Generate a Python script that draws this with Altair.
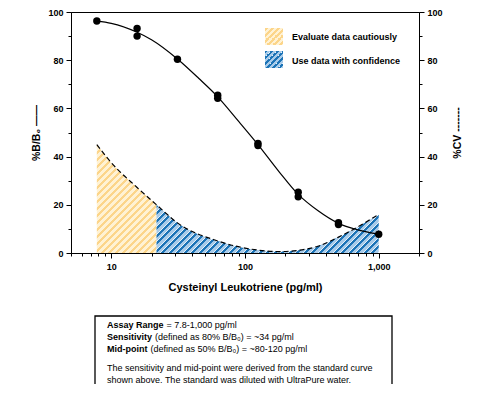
import math
import altair as alt
import pandas as pd

# ---------------- data ----------------
std_conc = [7.8, 15.6, 15.6, 31.25, 62.5, 62.5, 125, 125, 250, 250, 500, 500, 1000]
std_bb0 = [96.3, 93.2, 90.0, 80.4, 65.5, 64.2, 45.5, 44.6, 25.2, 23.3, 12.6, 11.8, 7.8]

curve_conc = [7.8, 10, 15.6, 20, 31.25, 45, 62.5, 90, 125, 180, 250, 350, 500, 700, 1000]
curve_bb0 = [96.2, 95.3, 91.6, 88.5, 80.5, 72.5, 64.8, 54.5, 45.0, 33.7, 24.3, 17.6, 12.3, 9.6, 7.8]

caution_conc = [7.8, 10, 15.6, 21.8]
caution_cv = [45, 37.5, 27.2, 20]
confidence_conc = [21.8, 31.25, 62.5, 125, 180, 250, 350, 500, 1000]
confidence_cv = [20, 12.5, 5.0, 1.2, 0.6, 1.1, 2.8, 6.6, 16]

x_tick_values = [5, 6, 7, 8, 9, 10, 20, 30, 40, 50, 60, 70, 80, 90, 100,
                 200, 300, 400, 500, 600, 700, 800, 900, 1000, 2000]
x_labelled = [10, 100, 1000]
y_tick_values = [0, 10, 20, 30, 40, 50, 60, 70, 80, 90, 100]

legend_labels = ["Evaluate data cautiously", "Use data with confidence"]
box_bold = ["Assay Range", "Sensitivity", "Mid-point"]
box_normal = ["= 7.8-1,000 pg/ml",
              "(defined as 80% B/B\u2080) =  ~34 pg/ml",
              "(defined as 50% B/B\u2080) =  ~80-120 pg/ml"]
box_note = ["The sensitivity and mid-point were derived from the standard curve",
            "shown above. The standard was diluted with UltraPure water."]

# ---------------- layout ----------------
FONT = "Liberation Sans, Arial, Helvetica, sans-serif"
PLOT_W, PLOT_H = 348, 241
X_DOMAIN = [5, 2000]


def px(v):
    lo, hi = math.log10(X_DOMAIN[0]), math.log10(X_DOMAIN[1])
    return PLOT_W * (math.log10(v) - lo) / (hi - lo)


def stripe_fill(w, h, period, colors, fracs):
    """Diagonal '/' hatching made from a hard-stop linear gradient."""
    s = (w + h) / (w * w + h * h)
    n = (w + h) / period
    total = sum(fracs)
    stops = []
    k = 0
    while k < n:
        acc = k / n
        for c, f in zip(colors, fracs):
            a = min(acc, 1.0)
            b = min(acc + f / total / n, 1.0)
            stops.append({"offset": a, "color": c})
            stops.append({"offset": b, "color": c})
            acc += f / total / n
        k += 1
    return {"gradient": "linear", "x1": 0, "y1": 0, "x2": s * w, "y2": s * h,
            "stops": stops}


YEL = ["#fcd58a", "#fff2d4"]
YEL_F = [1, 1]
BLU = ["#1d74b7", "#a8cbe9", "#e6f0f8"]
BLU_F = [0.42, 0.45, 0.13]

yel_w = px(caution_conc[-1]) - px(caution_conc[0])
yel_h = PLOT_H * max(caution_cv) / 100
blu_w = px(confidence_conc[-1]) - px(confidence_conc[0])
blu_h = PLOT_H * max(confidence_cv) / 100
yellow_fill = stripe_fill(yel_w, yel_h, 7, YEL, YEL_F)
blue_fill = stripe_fill(blu_w, blu_h, 7.5, BLU, BLU_F)
yellow_sw = stripe_fill(18, 17, 6, YEL, YEL_F)
blue_sw = stripe_fill(18, 17, 6, BLU, BLU_F)

# ---------------- tables ----------------
std_df = pd.DataFrame({"conc": std_conc, "bb0": std_bb0})
curve_df = pd.DataFrame({"conc": curve_conc, "bb0": curve_bb0})
caution_df = pd.DataFrame({"conc": caution_conc, "cv": caution_cv})
conf_df = pd.DataFrame({"conc": confidence_conc, "cv": confidence_cv})
cv_all_df = pd.DataFrame({"conc": caution_conc + confidence_conc[1:],
                          "cv": caution_cv + confidence_cv[1:]})
one = pd.DataFrame({"k": [0]})

major_x = "||".join(f"datum.value=={v}" for v in x_labelled)

x_axis = alt.Axis(
    values=x_tick_values,
    labelExpr=f"({major_x}) ? format(datum.value, ',') : ''",
    tickSize={"condition": {"test": major_x, "value": 5}, "value": 3},
    title="Cysteinyl Leukotriene (pg/ml)",
    titleFontSize=11, titlePadding=10,
    labelPadding=4, grid=False,
)
X = alt.X("conc:Q", scale=alt.Scale(type="log", domain=X_DOMAIN, nice=False),
          axis=x_axis)

y_cond = {"condition": {"test": "datum.value % 20 === 0", "value": 5}, "value": 3}
y_label = "datum.value % 20 === 0 ? datum.label : ''"
Y_left = alt.Y("bb0:Q", scale=alt.Scale(domain=[0, 100], nice=False),
               axis=alt.Axis(values=y_tick_values, labelExpr=y_label, tickSize=y_cond,
                             orient="left", title="%B/B\u2080 \u2014\u2014",
                             titleFontSize=10.5, titlePadding=6, labelPadding=3,
                             grid=False))
Y_right = alt.Y("cv:Q", scale=alt.Scale(domain=[0, 100], nice=False),
                axis=alt.Axis(values=y_tick_values, labelExpr=y_label, tickSize=y_cond,
                              orient="right", title="%CV -------",
                              titleFontSize=10.5, titlePadding=10, labelPadding=3,
                              titleAngle=270, titleBaseline="top", grid=False))

area_yel = alt.Chart(caution_df).mark_area(fill=yellow_fill, interpolate="monotone").encode(x=X, y=Y_right)
area_blu = alt.Chart(conf_df).mark_area(fill=blue_fill, interpolate="monotone").encode(x=X, y=Y_right)
cv_line = alt.Chart(cv_all_df).mark_line(color="black", strokeWidth=1.2, strokeDash=[5, 3],
                                         interpolate="monotone").encode(x=X, y=Y_right)
right = alt.layer(area_yel, area_blu, cv_line)

curve = alt.Chart(curve_df).mark_line(color="black", strokeWidth=1.2,
                                      interpolate="monotone").encode(x=X, y=Y_left)
pts = alt.Chart(std_df).mark_circle(color="black", size=55, opacity=1).encode(x=X, y=Y_left)
left = alt.layer(curve, pts)


def rect(x1, x2, y1, y2, **kw):
    return alt.Chart(one).mark_rect(**kw).encode(
        x=alt.value(x1), x2=alt.value(x2), y=alt.value(y1), y2=alt.value(y2))


def text(t, x, y, bold=False, size=9):
    return alt.Chart(one).mark_text(
        align="left", baseline="middle", font=FONT, fontSize=size,
        fontWeight="bold" if bold else "normal", color="black").encode(
        x=alt.value(x), y=alt.value(y), text=alt.value(t))


extras = [
    rect(194, 212, 16, 33, fill=yellow_sw),
    rect(194, 212, 39, 56, fill=blue_sw),
    text(legend_labels[0], 221, 25, bold=True),
    text(legend_labels[1], 221, 48.5, bold=True),
    rect(24, 321, 304, 420, fill="white", stroke="black", strokeWidth=1.3),
]

bold_w = [59.5, 48.0, 43.5]
line_y = [312.5, 324.5, 336.5]
for b, n, w, yy in zip(box_bold, box_normal, bold_w, line_y):
    extras.append(text(b, 36, yy, bold=True))
    extras.append(text(n, 36 + w, yy))
extras.append(text(box_note[0], 36, 355.5))
extras.append(text(box_note[1], 36, 367.5))

chart = alt.layer(right, left, *extras).resolve_scale(y="independent").properties(
    width=PLOT_W, height=PLOT_H,
    autosize=alt.AutoSizeParams(type="none"),
    padding={"left": 63, "top": 4, "right": 54, "bottom": 131},
).configure(font=FONT, background="white").configure_view(
    stroke="black", strokeWidth=1
).configure_axis(
    labelFont=FONT, titleFont=FONT, labelFontSize=9, labelFontWeight="bold",
    titleFontWeight="bold", labelColor="black", titleColor="black",
    domainColor="black", tickColor="black", domainWidth=1, tickWidth=1,
    labelFlush=False, labelOverlap=False
)

chart.save("out.html", embed_options={"renderer": "svg", "actions": False})
